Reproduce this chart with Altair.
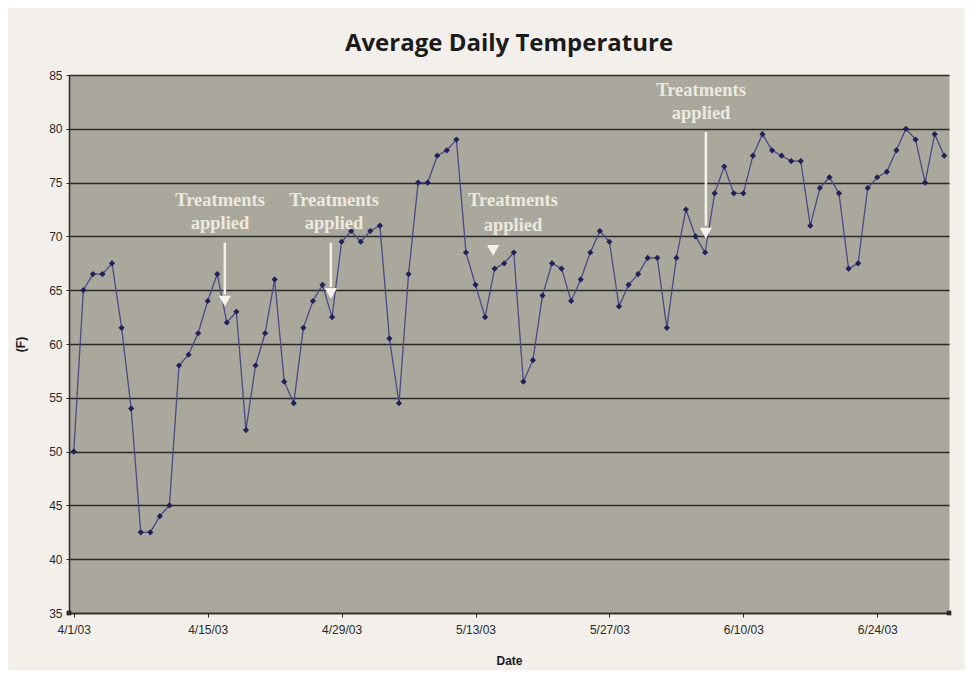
import altair as alt
import pandas as pd

# ---- data ----
temps = [50, 65, 66.5, 66.5, 67.5, 61.5, 54, 42.5, 42.5, 44,
         45, 58, 59, 61, 64, 66.5, 62, 63, 52, 58,
         61, 66, 56.5, 54.5, 61.5, 64, 65.5, 62.5, 69.5, 70.5,
         69.5, 70.5, 71, 60.5, 54.5, 66.5, 75, 75, 77.5, 78,
         79, 68.5, 65.5, 62.5, 67, 67.5, 68.5, 56.5, 58.5, 64.5,
         67.5, 67, 64, 66, 68.5, 70.5, 69.5, 63.5, 65.5, 66.5,
         68, 68, 61.5, 68, 72.5, 70, 68.5, 74, 76.5, 74,
         74, 77.5, 79.5, 78, 77.5, 77, 77, 71, 74.5, 75.5,
         74, 67, 67.5, 74.5, 75.5, 76, 78, 80, 79, 75,
         79.5, 77.5]
dates = [d.strftime("%Y-%m-%dT00:00:00Z")
         for d in pd.date_range("2003-04-01", "2003-07-01", freq="D")]

tick_dates = [(4, 1), (4, 15), (4, 29), (5, 13), (5, 27), (6, 10), (6, 24)]
y_ticks = [35, 40, 45, 50, 55, 60, 65, 70, 75, 80, 85]

corner_dates = ["2003-03-31T12:00:00Z", "2003-07-01T12:00:00Z"]
corner_vals = [35, 35]

ann_dates = ["2003-04-16T07:00:00Z", "2003-04-28T05:00:00Z",
             "2003-05-16T22:00:00Z", "2003-06-05T14:00:00Z"]
ann_line1_y = [73.4, 73.4, 73.4, 83.6]
ann_line2_y = [71.2, 71.2, 71.1, 81.5]
ann_line1 = ["Treatments"] * 4
ann_line2 = ["applied"] * 4

arrow_dates = ["2003-04-16T19:00:00Z", "2003-04-27T21:00:00Z", "2003-06-06T02:00:00Z"]
arrow_top = [69.4, 69.4, 79.7]
arrow_bottom = [64.6, 65.3, 71.0]
head_dates = ["2003-04-16T19:00:00Z", "2003-04-27T21:00:00Z",
              "2003-05-14T20:00:00Z", "2003-06-06T02:00:00Z"]
head_y = [64.0, 64.7, 68.7, 70.3]

# ---- tables ----
df = pd.DataFrame({"date": dates, "temp": temps})
corners = pd.DataFrame({"date": corner_dates, "temp": corner_vals})
ann = pd.DataFrame({"date": ann_dates * 2,
                    "temp": ann_line1_y + ann_line2_y,
                    "label": ann_line1 + ann_line2})
arrows = pd.DataFrame({"date": arrow_dates, "temp": arrow_top, "temp2": arrow_bottom})
heads = pd.DataFrame({"date": head_dates, "temp": head_y})

xscale = alt.Scale(type="utc", domain=[
    alt.DateTime(year=2003, month=3, date=31, hours=12, utc=True),
    alt.DateTime(year=2003, month=7, date=1, hours=12, utc=True)])
yscale = alt.Scale(domain=[35, 85], nice=False, zero=False)

xaxis = alt.Axis(values=[alt.DateTime(year=2003, month=m, date=d, utc=True) for m, d in tick_dates],
                 format="%-m/%-d/%y", grid=False, domainColor="#2a2a2a", domainWidth=1.5,
                 tickColor="#2a2a2a", tickSize=4, labelFont="Liberation Sans", labelFontSize=12,
                 labelColor="#2a2a2a", labelPadding=7, labelAngle=0,
                 titleFont="Liberation Sans", titleFontSize=12, titleFontWeight="bold",
                 titleColor="#1a1a1a", titlePadding=20)
yaxis = alt.Axis(values=y_ticks, grid=True, gridColor="#2a2a2a", gridWidth=1.4,
                 domainColor="#2a2a2a", domainWidth=1.5, tickColor="#2a2a2a", tickSize=3,
                 labelFont="Liberation Sans", labelFontSize=12, labelColor="#2a2a2a",
                 labelPadding=4, titleFont="Liberation Sans", titleFontSize=12,
                 titleFontWeight="bold", titleColor="#1a1a1a", titlePadding=21)

X = alt.X("date:T", scale=xscale, axis=xaxis, title="Date")
Y = alt.Y("temp:Q", scale=yscale, axis=yaxis, title="(F)")

line = alt.Chart(df).mark_line(color="#4a4a86", strokeWidth=1.3).encode(x=X, y=Y)
pts = alt.Chart(df).mark_point(shape="diamond", filled=True, size=38, color="#20205a",
                               opacity=1).encode(x="date:T", y="temp:Q")
corner = alt.Chart(corners).mark_point(shape="square", filled=True, size=22, color="#2a2a2a",
                                       opacity=1, clip=False).encode(x="date:T", y="temp:Q")
rules = alt.Chart(arrows).mark_rule(color="#f4f2ec", strokeWidth=2.5).encode(
    x="date:T", y="temp:Q", y2="temp2:Q")
tri = alt.Chart(heads).mark_point(shape="triangle-down", filled=True, size=150,
                                  color="#f4f2ec", opacity=1).encode(x="date:T", y="temp:Q")
txt = alt.Chart(ann).mark_text(font="Liberation Serif", fontWeight="bold", fontSize=18.5,
                               color="#ece9e0", align="center", baseline="middle").encode(
    x="date:T", y="temp:Q", text="label:N")

chart = alt.layer(line, pts, rules, tri, txt, corner).properties(
    width=880, height=538,
    padding={"left": 61, "top": 67, "right": 16, "bottom": 57},
    autosize=alt.AutoSizeParams(type="none"),
    background="#f3f0ec",
    title=alt.Title("Average Daily Temperature", font="Open Sans", fontSize=24,
                    fontWeight="bold", color="#1b1b1b", anchor="middle", offset=13),
).configure_view(fill="#aaa79c", stroke="transparent")

chart.save("out.html", embed_options={"renderer": "svg", "actions": False})
